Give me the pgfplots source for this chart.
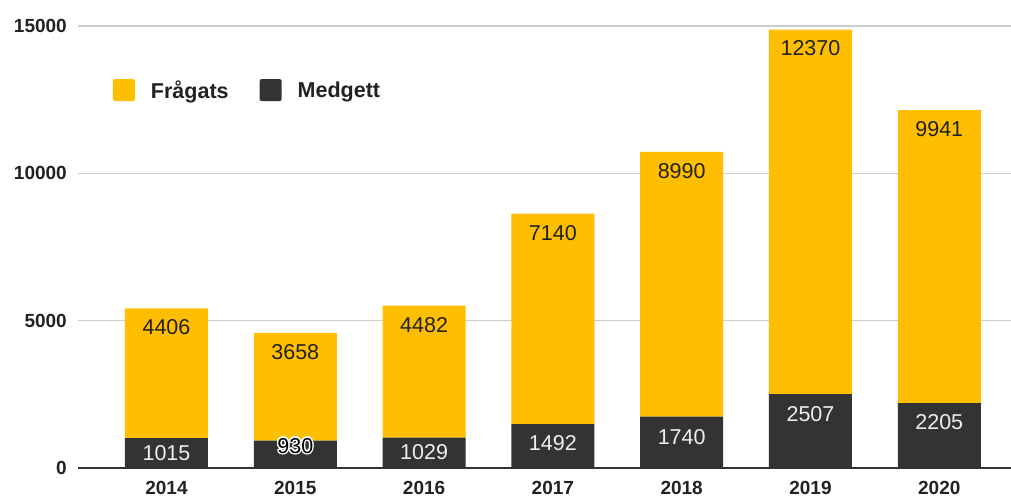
\documentclass[border=0pt]{standalone}
\usepackage{pgfplots}
\pgfplotsset{compat=1.18}
\usepackage{pgfplotstable}
\usepackage{fontspec}
\setmainfont{Liberation Sans}
\usepackage{contour}
\contourlength{1.3pt}
\definecolor{gold}{HTML}{FFBF00}
\definecolor{dark}{HTML}{333333}
\definecolor{gridc}{HTML}{CCCCCC}
\definecolor{txt}{HTML}{222222}
\definecolor{lab}{HTML}{EEEEEE}

% dy: label shift (pt) from the middle of the segment
\pgfplotstableread{
x y lab dy halo
0 1015 1015 0 0
1 930 930 7.8 1
2 1029 1029 0.3 0
3 1492 1492 2.7 0
4 1740 1740 5.3 0
5 2507 2507 17.3 0
6 2205 2205 13.0 0
}\medgett

\pgfplotstableread{
x y lab dy halo
0 4406 4406 45.9 0
1 3658 3658 34.9 0
2 4482 4482 47.0 0
3 7140 7140 86.2 0
4 8990 8990 113.5 0
5 12370 12370 163.3 0
6 9941 9941 127.5 0
}\fragats

\begin{document}
\begin{tikzpicture}
\useasboundingbox (0,0) rectangle (1011pt,497pt);
\begin{axis}[
  at={(78pt,29pt)}, anchor=south west,
  scale only axis, width=933pt, height=442pt,
  xmin=-0.687, xmax=6.557, ymin=0, ymax=15000,
  ybar stacked, bar width=83pt,
  xtick=data, xticklabels={2014,2015,2016,2017,2018,2019,2020},
  ytick={0,5000,10000,15000},
  scaled y ticks=false,
  /pgf/number format/assume math mode=true,
  /pgf/number format/set thousands separator={},
  axis x line*=bottom, axis y line*=left,
  x axis line style={draw=dark, line width=2pt},
  y axis line style={draw=none},
  major tick length=0pt,
  ymajorgrids, major grid style={draw=gridc, line width=1.3pt},
  ticklabel style={font=\fontsize{19}{19}\selectfont\bfseries, text=txt},
  yticklabel style={anchor=east, inner sep=0pt, xshift=-11pt},
  xticklabel style={anchor=north, inner sep=0pt, yshift=-13pt},
  point meta=explicit symbolic,
  visualization depends on={\thisrow{dy} \as \dy},
  visualization depends on={\thisrow{halo} \as \halo},
  every node near coord/.append style={anchor=center, yshift=\dy, inner sep=0pt,
     font=\fontsize{21.5}{21.5}\selectfont},
  legend image code/.code={\fill[#1, rounded corners=2pt] (0pt,-11pt) rectangle (22pt,11pt);},
  legend columns=2,
  legend style={at={(rel axis cs:0.0375,0.855)}, anchor=west, draw=none, fill=none,
     inner sep=0pt, outer sep=0pt, nodes={inner sep=0pt, text=txt,
     font=\fontsize{21.5}{21.5}\selectfont\bfseries}, column sep=16pt},
]
\addlegendimage{fill=gold, draw=none}
\addlegendimage{fill=dark, draw=none}
\addplot[fill=dark, draw=none,
  nodes near coords={\ifdim\halo pt>0.5pt \textcolor{black}{\contour{white}{\pgfplotspointmeta}}\else\textcolor{lab}{\pgfplotspointmeta}\fi}]
  table[x=x, y=y, meta=lab] {\medgett};
\addplot[fill=gold, draw=none,
  nodes near coords={\textcolor{txt}{\pgfplotspointmeta}}]
  table[x=x, y=y, meta=lab] {\fragats};
\legend{\mbox{Frågats\kern15pt}, Medgett}
\end{axis}
\end{tikzpicture}
\end{document}
